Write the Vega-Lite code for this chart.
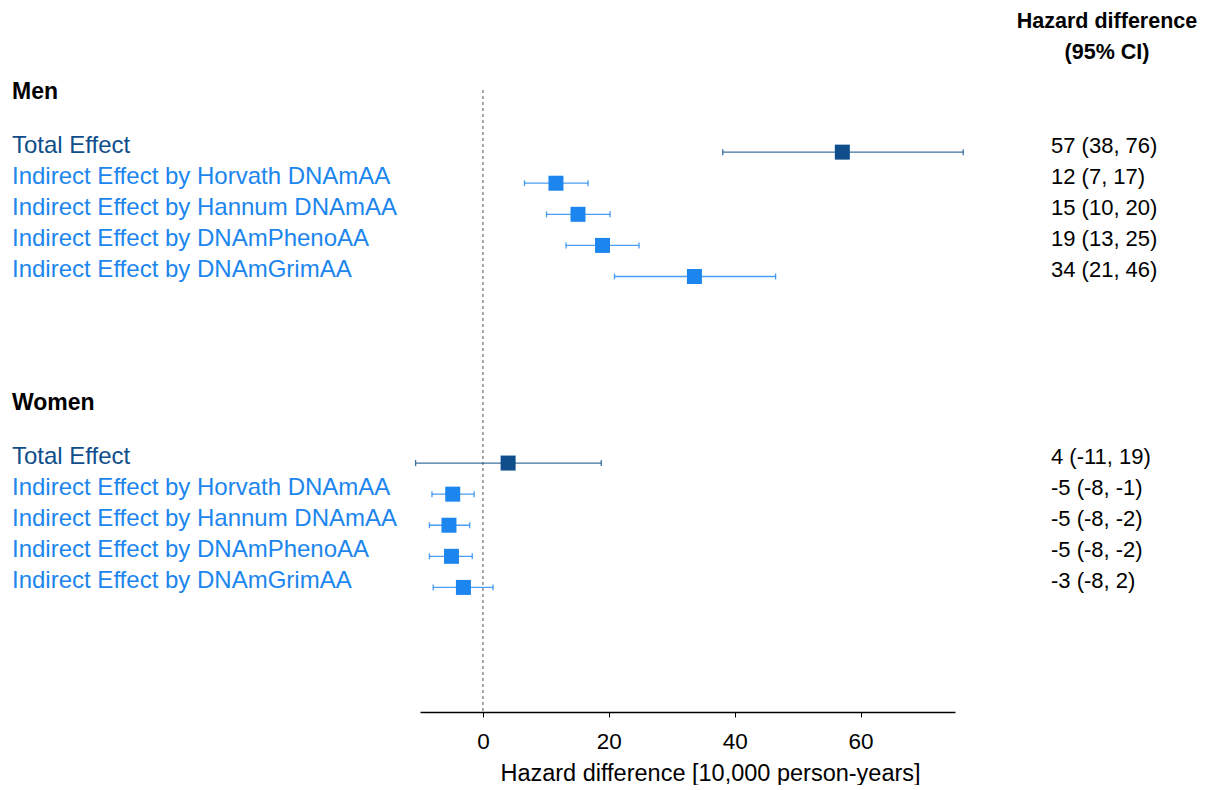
{
  "$schema": "https://vega.github.io/schema/vega-lite/v6.json",
  "padding": {"left": 12, "top": 0, "right": 0, "bottom": 0},
  "bounds": "flush",
  "spacing": 96,
  "config": {"view": {"stroke": null}, "font": "Liberation Sans"},
  "datasets": {
    "rows": [
      {"key": "M_Total", "label": "Total Effect", "type": "Total", "est": 57.1, "lo": 38.1, "hi": 76.3, "ci": "57 (38, 76)"},
      {"key": "M_Horvath", "label": "Indirect Effect by Horvath DNAmAA", "type": "Indirect", "est": 11.6, "lo": 6.6, "hi": 16.7, "ci": "12 (7, 17)"},
      {"key": "M_Hannum", "label": "Indirect Effect by Hannum DNAmAA", "type": "Indirect", "est": 15.1, "lo": 10.1, "hi": 20.2, "ci": "15 (10, 20)"},
      {"key": "M_Pheno", "label": "Indirect Effect by DNAmPhenoAA", "type": "Indirect", "est": 19.0, "lo": 13.2, "hi": 24.8, "ci": "19 (13, 25)"},
      {"key": "M_Grim", "label": "Indirect Effect by DNAmGrimAA", "type": "Indirect", "est": 33.6, "lo": 20.9, "hi": 46.5, "ci": "34 (21, 46)"},
      {"key": "W_Total", "label": "Total Effect", "type": "Total", "est": 4.0, "lo": -10.7, "hi": 18.8, "ci": "4 (-11, 19)"},
      {"key": "W_Horvath", "label": "Indirect Effect by Horvath DNAmAA", "type": "Indirect", "est": -4.8, "lo": -8.1, "hi": -1.4, "ci": "-5 (-8, -1)"},
      {"key": "W_Hannum", "label": "Indirect Effect by Hannum DNAmAA", "type": "Indirect", "est": -5.4, "lo": -8.5, "hi": -2.1, "ci": "-5 (-8, -2)"},
      {"key": "W_Pheno", "label": "Indirect Effect by DNAmPhenoAA", "type": "Indirect", "est": -5.0, "lo": -8.5, "hi": -1.7, "ci": "-5 (-8, -2)"},
      {"key": "W_Grim", "label": "Indirect Effect by DNAmGrimAA", "type": "Indirect", "est": -3.1, "lo": -7.9, "hi": 1.6, "ci": "-3 (-8, 2)"}
    ],
    "groups": [
      {"key": "Men", "label": "Men"},
      {"key": "Women", "label": "Women"}
    ],
    "headers": [
      {"key": "hdrA", "label": "Hazard difference"},
      {"key": "hdrB", "label": "(95% CI)"}
    ]
  },
  "hconcat": [
    {
      "width": 312,
      "height": 712,
      "layer": [
        {
          "data": {"name": "rows"},
          "mark": {"type": "text", "align": "left", "baseline": "middle", "fontSize": 24, "dy": -6},
          "encoding": {
            "x": {"datum": 0, "type": "quantitative", "scale": {"domain": [0, 1]}, "axis": null},
            "y": {"field": "key", "type": "nominal", "axis": null,
              "scale": {"type": "point", "padding": 0.95, "align": 0.47,
                "domain": ["hdrA","hdrB","Men","g0","M_Total","M_Horvath","M_Hannum","M_Pheno","M_Grim","g1","g2","g3","Women","g4","W_Total","W_Horvath","W_Hannum","W_Pheno","W_Grim","g5","g6","g7"]}},
            "text": {"field": "label"},
            "color": {"field": "type", "type": "nominal", "scale": {"domain": ["Total", "Indirect"], "range": ["#104E8B", "#1C86EE"]}, "legend": null}
          }
        },
        {
          "data": {"name": "groups"},
          "mark": {"type": "text", "align": "left", "baseline": "middle", "fontSize": 23, "fontWeight": "bold", "color": "#000000", "dy": 2},
          "encoding": {
            "x": {"datum": 0, "type": "quantitative"},
            "y": {"field": "key", "type": "nominal"},
            "text": {"field": "label"}
          }
        }
      ]
    },
    {
      "width": 535,
      "height": 712,
      "layer": [
        {
          "data": {"values": [{}]},
          "mark": {"type": "rule", "color": "#707070", "strokeDash": [3, 3], "strokeWidth": 1.2},
          "encoding": {
            "x": {"datum": 0, "type": "quantitative",
              "scale": {"domain": [-10, 75], "nice": false, "zero": false},
              "axis": {"values": [0, 20, 40, 60], "grid": false, "domainColor": "#000000", "domainWidth": 1.3, "tickColor": "#000000", "tickSize": 5, "labelFontSize": 22.5, "labelColor": "#000000", "labelPadding": 13, "title": "Hazard difference [10,000 person-years]", "titleFontSize": 23.5, "titleFontWeight": "normal", "titleColor": "#000000", "titlePadding": 9, "titleX": 290}},
            "y": {"datum": "Men", "type": "nominal",
              "scale": {"type": "point", "padding": 0.95, "align": 0.47,
                "domain": ["hdrA","hdrB","Men","g0","M_Total","M_Horvath","M_Hannum","M_Pheno","M_Grim","g1","g2","g3","Women","g4","W_Total","W_Horvath","W_Hannum","W_Pheno","W_Grim","g5","g6","g7"]}, "axis": null},
            "y2": {"value": "height"}
          }
        },
        {
          "data": {"name": "rows"},
          "mark": {"type": "rule", "strokeWidth": 1.3, "opacity": 0.8},
          "encoding": {
            "x": {"field": "lo", "type": "quantitative"},
            "x2": {"field": "hi"},
            "y": {"field": "key", "type": "nominal"},
            "color": {"field": "type", "type": "nominal", "scale": {"domain": ["Total", "Indirect"], "range": ["#104E8B", "#1C86EE"]}, "legend": null}
          }
        },
        {
          "data": {"name": "rows"},
          "mark": {"type": "tick", "orient": "vertical", "size": 6, "thickness": 1.3, "opacity": 0.8},
          "encoding": {
            "x": {"field": "lo", "type": "quantitative"},
            "y": {"field": "key", "type": "nominal"},
            "color": {"field": "type", "type": "nominal", "legend": null}
          }
        },
        {
          "data": {"name": "rows"},
          "mark": {"type": "tick", "orient": "vertical", "size": 6, "thickness": 1.3, "opacity": 0.8},
          "encoding": {
            "x": {"field": "hi", "type": "quantitative"},
            "y": {"field": "key", "type": "nominal"},
            "color": {"field": "type", "type": "nominal", "legend": null}
          }
        },
        {
          "data": {"name": "rows"},
          "mark": {"type": "square", "size": 225, "filled": true, "opacity": 1},
          "encoding": {
            "x": {"field": "est", "type": "quantitative"},
            "y": {"field": "key", "type": "nominal"},
            "color": {"field": "type", "type": "nominal", "legend": null}
          }
        }
      ]
    },
    {
      "width": 112,
      "height": 712,
      "layer": [
        {
          "data": {"name": "rows"},
          "mark": {"type": "text", "align": "left", "baseline": "middle", "fontSize": 22, "color": "#000000", "dy": -6},
          "encoding": {
            "x": {"datum": 0, "type": "quantitative", "scale": {"domain": [0, 1]}, "axis": null},
            "y": {"field": "key", "type": "nominal", "axis": null,
              "scale": {"type": "point", "padding": 0.95, "align": 0.47,
                "domain": ["hdrA","hdrB","Men","g0","M_Total","M_Horvath","M_Hannum","M_Pheno","M_Grim","g1","g2","g3","Women","g4","W_Total","W_Horvath","W_Hannum","W_Pheno","W_Grim","g5","g6","g7"]}},
            "text": {"field": "ci"}
          }
        },
        {
          "data": {"name": "headers"},
          "mark": {"type": "text", "align": "center", "baseline": "middle", "fontSize": 21.5, "fontWeight": "bold", "color": "#000000", "dy": -6},
          "encoding": {
            "x": {"datum": 0.5, "type": "quantitative"},
            "y": {"field": "key", "type": "nominal"},
            "text": {"field": "label"}
          }
        }
      ]
    }
  ]
}
